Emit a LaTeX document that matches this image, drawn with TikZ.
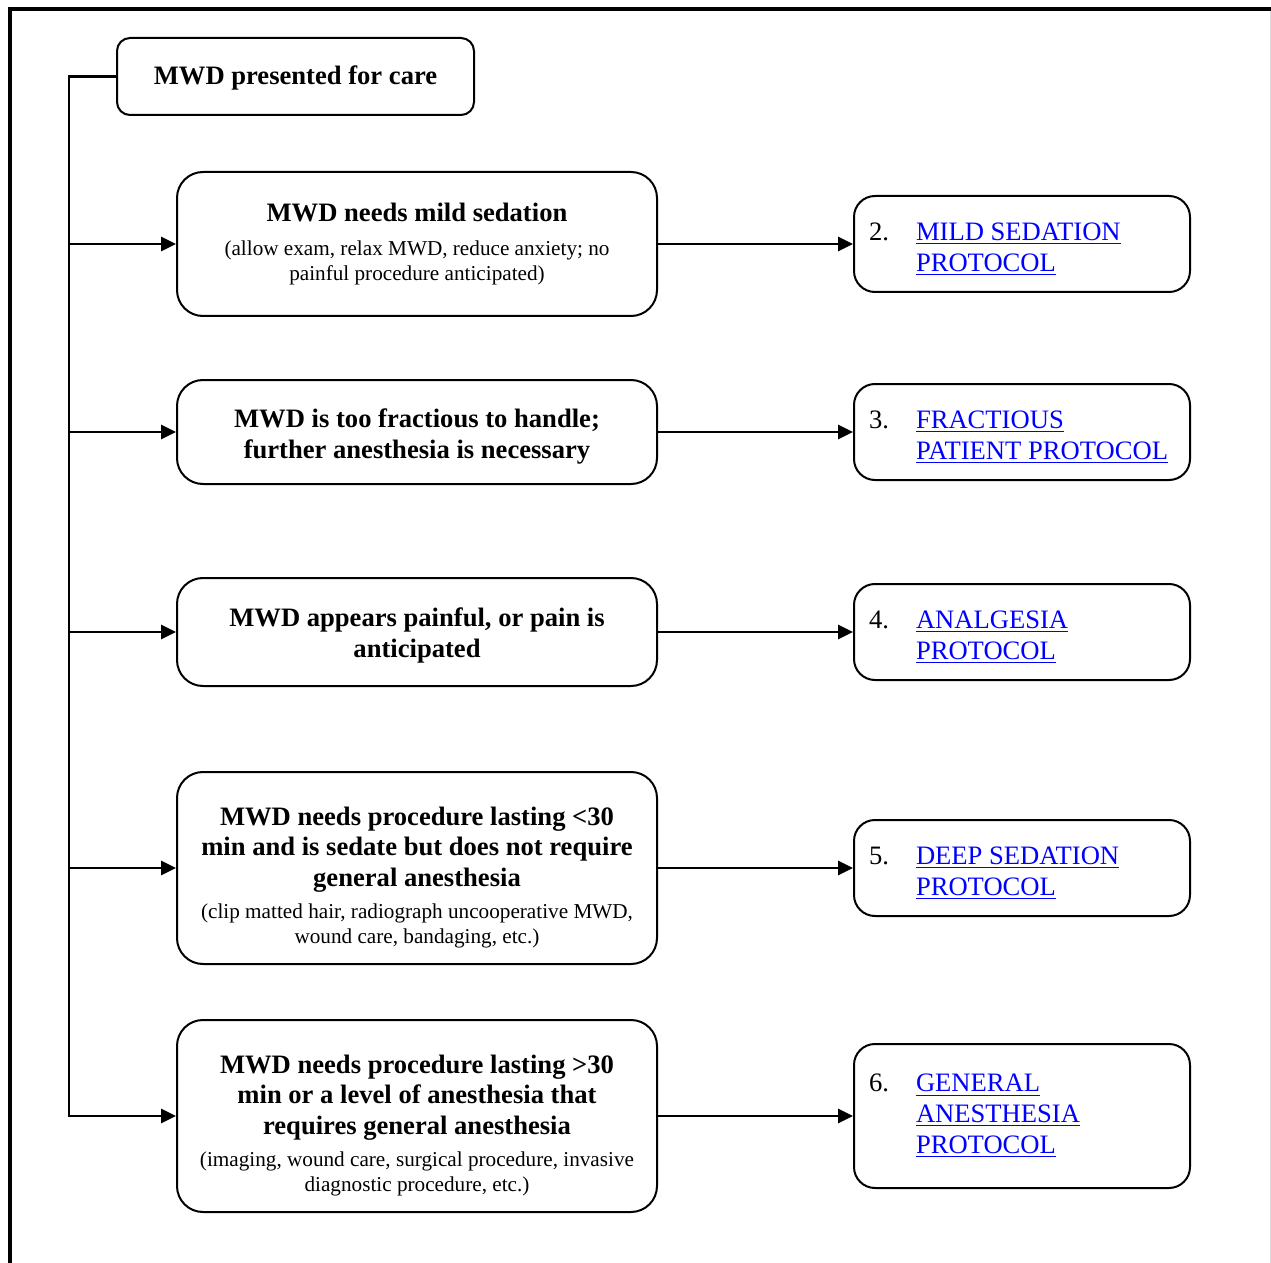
\documentclass[tikz,border=0pt]{standalone}
\usepackage{fontspec}
\setmainfont{Liberation Serif}
\usetikzlibrary{arrows.meta,positioning,calc}
\definecolor{linkblue}{RGB}{0,0,255}
\def\boldtext{\bfseries\fontsize{13.3}{15.3}\selectfont}
\def\notetext{\normalfont\fontsize{10.6}{12.4}\selectfont}
\def\linktext{\fontsize{13.3}{15.4}\selectfont}
\def\toppad#1{\rule{0pt}{#1}}
\newcommand{\plink}[1]{\textcolor{linkblue}{\underline{#1}}}
\newcommand{\protitem}[3][14pt]{\rule{0pt}{#1}\makebox[23.5pt][l]{#2}\parbox[t]{129.5pt}{\raggedright #3}}
\tikzset{
  stepbox/.style={draw, line width=1pt, rounded corners=13pt, minimum width=240pt,
    text width=232pt, inner xsep=4pt, align=flush center, font=\boldtext},
  protbox/.style={draw, line width=1pt, rounded corners=10.5pt, minimum width=168pt,
    text width=153pt, inner xsep=7.5pt, align=flush left, font=\linktext},
  flow/.style={line width=1.4pt, -{Triangle[length=7.5pt,width=7pt]}}
}

\begin{document}
\begin{tikzpicture}[x=0.5pt,y=-0.5pt]
    \useasboundingbox (0,0) rectangle (1271,1263);
    % page frame
    \draw[line width=2pt] (9.5,1263) -- (9.5,9) -- (1271,9);
    \draw[black!15, line width=0.5pt] (1270,11) -- (1270,1263);

    \node[draw, line width=1pt, rounded corners=6.5pt, minimum width=178.5pt, minimum height=38.5pt,
      font=\boldtext] (start) at (295.5,76.5) {\toppad{11pt}MWD presented for care};

    % what the MWD needs
    \node[stepbox, minimum height=72pt] (need1) at (417,244)
      {MWD needs mild sedation\par\vspace{5pt}
       {\notetext (allow exam, relax MWD, reduce anxiety; no\\ painful procedure anticipated)\par}};
    \node[stepbox, minimum height=52pt] (need2) at (417,432)
      {\toppad{14pt}MWD is too fractious to handle;\\ further anesthesia is necessary};
    \node[stepbox, minimum height=54pt] (need3) at (417,632)
      {\toppad{13pt}MWD appears painful, or pain is\\ anticipated};
    \node[stepbox, minimum height=96pt] (need4) at (417,868)
      {\toppad{18.5pt}MWD needs procedure lasting <30\\ min and is sedate but does not require\\ general anesthesia\par\vspace{3.8pt}
       {\notetext (clip matted hair, radiograph uncooperative MWD,\\ wound care, bandaging, etc.)\par}};
    \node[stepbox, minimum height=96pt] (need5) at (417,1116)
      {\toppad{18.5pt}MWD needs procedure lasting >30\\ min or a level of anesthesia that\\ requires general anesthesia\par\vspace{3.8pt}
       {\notetext (imaging, wound care, surgical procedure, invasive\\ diagnostic procedure, etc.)\par}};

    % protocols
    \node[protbox, minimum height=48pt] (prot1) at (1022,244)
      {\protitem{2.}{\plink{MILD SEDATION}\\\plink{PROTOCOL}}};
    \node[protbox, minimum height=48pt] (prot2) at (1022,432)
      {\protitem{3.}{\plink{FRACTIOUS}\\\plink{PATIENT PROTOCOL}}};
    \node[protbox, minimum height=48pt] (prot3) at (1022,632)
      {\protitem{4.}{\plink{ANALGESIA}\\\plink{PROTOCOL}}};
    \node[protbox, minimum height=48pt] (prot4) at (1022,868)
      {\protitem{5.}{\plink{DEEP SEDATION}\\\plink{PROTOCOL}}};
    \node[protbox, minimum height=72pt] (prot5) at (1022,1116)
      {\protitem[0pt]{6.}{\plink{GENERAL}\\\plink{ANESTHESIA}\\\plink{PROTOCOL}}};

    % spine on the left
    \coordinate (spine) at (69,0);
    \draw[flow] (start.west) -- (start.west -| spine) -- (need5.west -| spine) -- (need5.west);
    \foreach \n in {1,...,4}
      \draw[flow] (need\n.west -| spine) -- (need\n.west);
    \foreach \n in {1,...,5}
      \draw[flow] (need\n) -- (prot\n);
\end{tikzpicture}
\end{document}
